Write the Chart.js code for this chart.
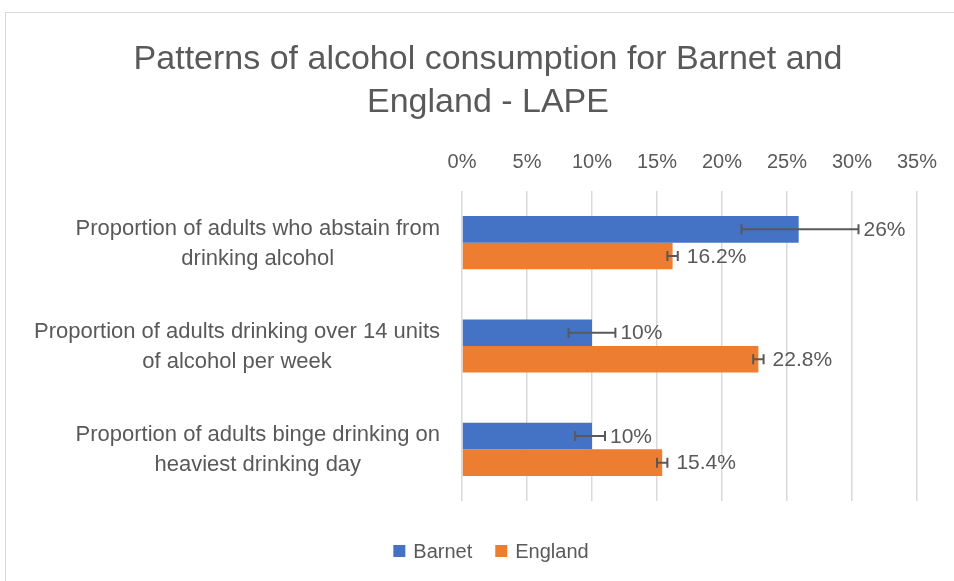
<!DOCTYPE html>
<html><head><meta charset="utf-8">
<script src="https://cdn.jsdelivr.net/npm/chart.js@4"></script>
<style>
html,body{margin:0;padding:0;background:#fff;overflow:hidden}
#wrap{position:relative;width:954px;height:581px;overflow:hidden}
#frame{position:absolute;left:5px;top:12px;width:980px;height:620px;border:1px solid #d9d9d9;box-sizing:border-box}
canvas{position:absolute;left:0;top:0}
</style></head>
<body><div id="wrap"><div id="frame"></div><canvas id="c" width="954" height="581"></canvas></div>
<script>
const titleLines = ["Patterns of alcohol consumption for Barnet and", "England - LAPE"];
const categories = [
  ["Proportion of adults who abstain from", "drinking alcohol"],
  ["Proportion of adults drinking over 14 units", "of alcohol per week"],
  ["Proportion of adults binge drinking on", "heaviest drinking day"]
];
const seriesNames = ["Barnet", "England"];
const seriesColors = ["#4472C4", "#ED7D31"];
const barnet = [25.9, 10, 10];
const england = [16.2, 22.8, 15.4];
const barnetLow = [21.5, 8.2, 8.7];
const barnetHigh = [30.5, 11.8, 11.0];
const englandLow = [15.8, 22.4, 15.0];
const englandHigh = [16.6, 23.2, 15.8];
const barnetLabels = ["26%", "10%", "10%"];
const englandLabels = ["16.2%", "22.8%", "15.4%"];
const xTicks = ["0%", "5%", "10%", "15%", "20%", "25%", "30%", "35%"];

const FONT = "'Liberation Sans', Arial, sans-serif";
const GREY = "#595959";
const errLow = [barnetLow, englandLow];
const errHigh = [barnetHigh, englandHigh];
const valLabels = [barnetLabels, englandLabels];
const labelGap = [5, 9];

const extras = {
  id: "extras",
  afterDatasetsDraw(chart) {
    const ctx = chart.ctx;
    const xs = chart.scales.x, ys = chart.scales.y;
    ctx.save();
    // error bars
    ctx.strokeStyle = GREY;
    ctx.lineWidth = 2;
    for (let d = 0; d < 2; d++) {
      const meta = chart.getDatasetMeta(d);
      meta.data.forEach((el, i) => {
        const x1 = xs.getPixelForValue(errLow[d][i]);
        const x2 = xs.getPixelForValue(errHigh[d][i]);
        const y = el.y;
        ctx.beginPath();
        ctx.moveTo(x1, y); ctx.lineTo(x2, y);
        ctx.moveTo(x1, y - 5); ctx.lineTo(x1, y + 5);
        ctx.moveTo(x2, y - 5); ctx.lineTo(x2, y + 5);
        ctx.stroke();
      });
    }
    // data labels
    ctx.fillStyle = GREY;
    ctx.font = "21px " + FONT;
    ctx.textAlign = "left";
    ctx.textBaseline = "middle";
    for (let d = 0; d < 2; d++) {
      const meta = chart.getDatasetMeta(d);
      meta.data.forEach((el, i) => {
        const x = Math.max(el.x, xs.getPixelForValue(errHigh[d][i])) + labelGap[d];
        ctx.fillText(valLabels[d][i], x, el.y + 1);
      });
    }
    // category labels (right-aligned block, centred lines)
    ctx.font = "22px " + FONT;
    ctx.textAlign = "center";
    categories.forEach((lines, i) => {
      const yc = ys.getPixelForValue(i);
      const w = Math.max(...lines.map(l => ctx.measureText(l).width));
      const cx = 440 - w / 2;
      const lh = 30;
      lines.forEach((l, k) => {
        ctx.fillText(l, cx, yc + 1 + (k - (lines.length - 1) / 2) * lh);
      });
    });
    // title
    ctx.font = "34px " + FONT;
    ctx.textAlign = "center";
    titleLines.forEach((l, k) => ctx.fillText(l, 488, 60 + k * 43));
    // legend
    ctx.font = "20px " + FONT;
    ctx.textAlign = "left";
    const box = 12, gapBT = 8, gapItems = 23;
    const widths = seriesNames.map(n => ctx.measureText(n).width);
    const total = widths.reduce((a, w) => a + box + gapBT + w, 0) + gapItems * (seriesNames.length - 1);
    let x = 491 - total / 2;
    const ly = 551;
    seriesNames.forEach((n, k) => {
      ctx.fillStyle = seriesColors[k];
      ctx.fillRect(x, ly - box / 2, box, box);
      x += box + gapBT;
      ctx.fillStyle = GREY;
      ctx.fillText(n, x, ly + 1);
      x += widths[k] + gapItems;
    });
    ctx.restore();
  }
};

new Chart(document.getElementById("c"), {
  type: "bar",
  data: {
    labels: categories,
    datasets: [
      { label: seriesNames[0], data: barnet, backgroundColor: seriesColors[0], barPercentage: 1, categoryPercentage: 0.515 },
      { label: seriesNames[1], data: england, backgroundColor: seriesColors[1], barPercentage: 1, categoryPercentage: 0.515 }
    ]
  },
  options: {
    indexAxis: "y",
    responsive: false,
    animation: false,
    devicePixelRatio: 1,
    layout: { padding: { left: 0, right: 36, top: 146, bottom: 80 } },
    scales: {
      x: {
        position: "top",
        min: 0, max: 35,
        ticks: {
          stepSize: 5,
          callback: (v, i) => xTicks[i],
          color: GREY,
          font: { family: FONT, size: 20 },
          padding: 17,
          maxRotation: 0
        },
        grid: { color: "#d9d9d9", lineWidth: 1.5, drawTicks: false },
        border: { display: false },
        afterFit(s) { s.height = 45; }
      },
      y: {
        ticks: { display: false },
        grid: { display: false },
        border: { display: false },
        afterFit(s) { s.width = 462; }
      }
    },
    plugins: {
      legend: { display: false },
      title: { display: false },
      tooltip: { enabled: false }
    }
  },
  plugins: [extras]
});
</script>
</body></html>
